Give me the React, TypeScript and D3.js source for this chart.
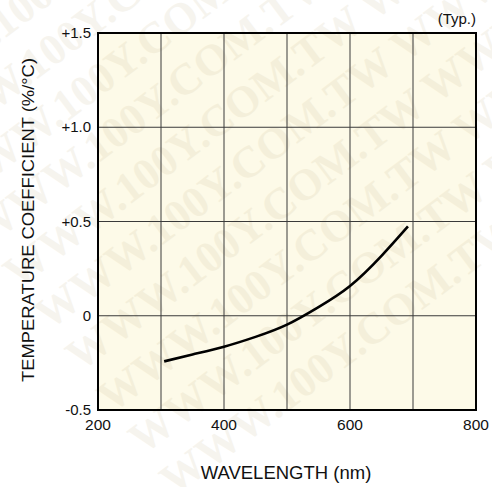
import * as React from "react";
import * as d3 from "d3";

// curve (nm, %/°C)
const wavelength = [305, 350, 400, 450, 500, 550, 600, 650, 692];
const tempCoef = [-0.242, -0.205, -0.164, -0.112, -0.047, 0.046, 0.158, 0.318, 0.474];

const xTicks = [200, 300, 400, 500, 600, 700, 800];
const xTickLabels = ["200", "", "400", "", "600", "", "800"];
const yTicks = [-0.5, 0, 0.5, 1.0, 1.5];
const yTickLabels = ["-0.5", "0", "+0.5", "+1.0", "+1.5"];

const WATERMARK = "WWW.100Y.COM.TW";

const W = 492;
const H = 487;
const plot = { left: 98, right: 476, top: 33, bottom: 410 };
const font = "'Liberation Sans', Arial, Helvetica, sans-serif";

function App() {
    const x = d3.scaleLinear().domain([200, 800]).range([plot.left, plot.right]);
    const y = d3.scaleLinear().domain([-0.5, 1.5]).range([plot.bottom, plot.top]);

    const points: [number, number][] = wavelength.map((w, i) => [w, tempCoef[i]]);
    const line = d3
        .line<[number, number]>()
        .x(d => x(d[0]))
        .y(d => y(d[1]))
        .curve(d3.curveNatural);

    // diagonal watermark rows
    const ang = -37;
    const rad = (ang * Math.PI) / 180;
    const nx = -Math.sin(rad);
    const ny = Math.cos(rad);
    const rows = d3.range(-3, 12).map(k => ({
        x: -170 + k * 52 * nx,
        y: 40 + k * 52 * ny
    }));

    return (
        <svg
            width={W}
            height={H}
            style={{ position: "absolute", left: 0, top: 0, background: "#fff" }}
        >
            <defs>
                <clipPath id="page">
                    <rect x={0} y={0} width={W} height={H} />
                </clipPath>
            </defs>
            <rect
                x={plot.left}
                y={plot.top}
                width={plot.right - plot.left}
                height={plot.bottom - plot.top}
                fill="#fdfae8"
            />

            <g
                clipPath="url(#page)"
                fill="#c4b48a"
                opacity={0.14}
                fontFamily="'Liberation Serif', 'Times New Roman', serif"
                fontWeight="bold"
                fontSize={44}
            >
                {rows.map((r, i) => (
                    <text key={i} transform={`translate(${r.x},${r.y}) rotate(${ang})`}>
                        {`${WATERMARK} ${WATERMARK} ${WATERMARK}`}
                    </text>
                ))}
            </g>

            <g stroke="#3a3a3a" strokeWidth={1}>
                {xTicks.slice(1, -1).map(t => (
                    <line key={"gx" + t} x1={x(t)} x2={x(t)} y1={plot.top} y2={plot.bottom} />
                ))}
                {yTicks.slice(1, -1).map(t => (
                    <line key={"gy" + t} x1={plot.left} x2={plot.right} y1={y(t)} y2={y(t)} />
                ))}
            </g>

            <rect
                x={plot.left}
                y={plot.top}
                width={plot.right - plot.left}
                height={plot.bottom - plot.top}
                fill="none"
                stroke="#000"
                strokeWidth={2}
            />

            <path d={line(points) || ""} fill="none" stroke="#000" strokeWidth={2.6} />

            <g fontFamily={font} fill="#111" fontSize={15}>
                {yTicks.map((t, i) => (
                    <text key={"ly" + t} x={plot.left - 7} y={y(t) + 5} textAnchor="end">
                        {yTickLabels[i]}
                    </text>
                ))}
                {xTicks.map((t, i) =>
                    xTickLabels[i] ? (
                        <text key={"lx" + t} x={x(t)} y={plot.bottom + 20} textAnchor="middle" fontSize={15.5}>
                            {xTickLabels[i]}
                        </text>
                    ) : null
                )}
                <text x={plot.right} y={24} textAnchor="end">
                    (Typ.)
                </text>
                <text x={286} y={479} textAnchor="middle" fontSize={18.5}>
                    WAVELENGTH (nm)
                </text>
                <text
                    transform="translate(34,220) rotate(-90)"
                    textAnchor="middle"
                    fontSize={16}
                    textLength={324}
                    lengthAdjust="spacingAndGlyphs"
                >
                    TEMPERATURE COEFFICIENT (%/°C)
                </text>
            </g>
        </svg>
    );
}

export default App;
